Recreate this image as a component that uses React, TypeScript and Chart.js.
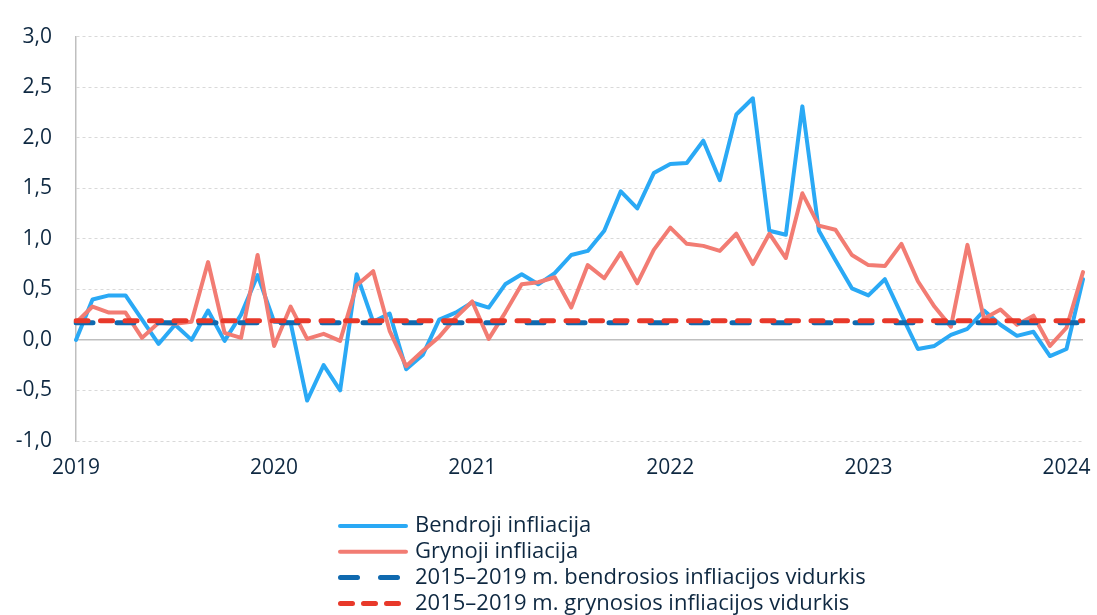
import React, { useEffect, useRef } from 'react';
import { Chart, registerables } from 'chart.js';

Chart.register(...registerables);

const years = ['2019', '2020', '2021', '2022', '2023', '2024'];
const monthCount = 62; // Jan 2019 – Feb 2024
const months: string[] = [];
years.forEach((y) => {
  for (let m = 1; m <= 12; m++) months.push(`${y}-${String(m).padStart(2, '0')}`);
});
const labels = months.slice(0, monthCount);

const bendroji = [
  0.0, 0.40, 0.44, 0.44, 0.20, -0.04, 0.15, 0.0, 0.29, -0.01, 0.25, 0.64,
  0.18, 0.17, -0.60, -0.25, -0.50, 0.65, 0.18, 0.26, -0.29, -0.15, 0.20, 0.27,
  0.37, 0.32, 0.55, 0.65, 0.55, 0.66, 0.84, 0.88, 1.08, 1.47, 1.30, 1.65,
  1.74, 1.75, 1.97, 1.58, 2.23, 2.39, 1.08, 1.04, 2.31, 1.08, 0.79, 0.51,
  0.44, 0.60, 0.25, -0.09, -0.06, 0.05, 0.11, 0.29, 0.15, 0.04, 0.08, -0.16,
  -0.09, 0.60,
];

const grynoji = [
  0.17, 0.33, 0.27, 0.27, 0.02, 0.17, 0.16, 0.18, 0.77, 0.07, 0.02, 0.84,
  -0.06, 0.33, 0.01, 0.06, -0.01, 0.54, 0.68, 0.09, -0.26, -0.11, 0.03, 0.22,
  0.38, 0.01, 0.27, 0.55, 0.57, 0.62, 0.32, 0.74, 0.61, 0.86, 0.56, 0.89,
  1.11, 0.95, 0.93, 0.88, 1.05, 0.75, 1.05, 0.81, 1.45, 1.13, 1.09, 0.84,
  0.74, 0.73, 0.95, 0.58, 0.33, 0.13, 0.94, 0.21, 0.30, 0.15, 0.24, -0.06,
  0.12, 0.67,
];

const bendrojiAvgValue = 0.17;
const grynojiAvgValue = 0.19;
const bendrojiAvg = labels.map(() => bendrojiAvgValue);
const grynojiAvg = labels.map(() => grynojiAvgValue);

const seriesNames = [
  'Bendroji infliacija',
  'Grynoji infliacija',
  '2015–2019 m. bendrosios infliacijos vidurkis',
  '2015–2019 m. grynosios infliacijos vidurkis',
];

const TEXT = '#0E2841';
const FONT = '"Open Sans", "Liberation Sans", sans-serif';

const legendPlugin = {
  id: 'customLegend',
  afterDraw(chart: any) {
    const ctx = chart.ctx;
    const x0 = 338;
    const x1 = 408;
    const tx = 415;
    const rowTop = 526;
    const rowGap = 25.8;
    ctx.save();
    chart.data.datasets.forEach((ds: any, i: number) => {
      const y = rowTop + i * rowGap;
      ctx.beginPath();
      ctx.strokeStyle = ds.borderColor;
      ctx.lineWidth = ds.legendLineWidth || ds.borderWidth;
      ctx.lineCap = ds.borderCapStyle || 'butt';
      ctx.setLineDash(ds.legendDash || []);
      const pad = ds.borderCapStyle === 'round' ? ctx.lineWidth / 2 : 0;
      ctx.moveTo(x0 + pad, y);
      ctx.lineTo(x1 - pad, y);
      ctx.stroke();
      ctx.setLineDash([]);
      ctx.fillStyle = TEXT;
      ctx.font = `22px ${FONT}`;
      ctx.textBaseline = 'middle';
      ctx.textAlign = 'left';
      ctx.fillText(ds.label, tx, y);
    });
    ctx.restore();
  },
};

export default function App() {
  const ref = useRef<HTMLCanvasElement | null>(null);

  useEffect(() => {
    document.body.style.margin = '0';
    const canvas = ref.current;
    if (!canvas) return;
    const chart = new Chart(canvas, {
      type: 'line',
      data: {
        labels,
        datasets: [
          {
            label: seriesNames[0],
            data: bendroji,
            borderColor: '#2AA9F5',
            borderWidth: 4,
            pointRadius: 0,
            tension: 0,
            order: 4,
            borderJoinStyle: 'round',
            borderCapStyle: 'round',
            legendLineWidth: 4,
          } as any,
          {
            label: seriesNames[1],
            data: grynoji,
            borderColor: '#F27C73',
            borderWidth: 4,
            pointRadius: 0,
            tension: 0,
            order: 3,
            borderJoinStyle: 'round',
            borderCapStyle: 'round',
            legendLineWidth: 4,
          } as any,
          {
            label: seriesNames[2],
            data: bendrojiAvg,
            borderColor: '#0F69AF',
            borderWidth: 5,
            borderDash: [17, 24],
            borderCapStyle: 'round',
            pointRadius: 0,
            order: 2,
            legendDash: [17, 23],
            legendLineWidth: 5,
          } as any,
          {
            label: seriesNames[3],
            data: grynojiAvg,
            borderColor: '#E8392A',
            borderWidth: 5,
            borderDash: [12, 12.5],
            borderCapStyle: 'round',
            pointRadius: 0,
            order: 1,
            legendDash: [12, 11],
            legendLineWidth: 5,
          } as any,
        ],
      },
      options: {
        responsive: false,
        animation: false,
        events: [],
        layout: { padding: { left: 0, top: 23, right: 14, bottom: 134 } },
        plugins: {
          legend: { display: false },
          tooltip: { enabled: false },
        },
        scales: {
          x: {
            type: 'category',
            grid: { display: false, drawTicks: false },
            border: { display: false },
            ticks: {
              autoSkip: false,
              maxRotation: 0,
              minRotation: 0,
              padding: 14,
              color: TEXT,
              font: { family: FONT, size: 21 },
              callback: (_v: any, idx: number) => (idx % 12 === 0 ? years[idx / 12] : ''),
            },
            afterFit: (s: any) => {
              s.height = 40;
            },
          },
          y: {
            min: -1,
            max: 3,
            ticks: {
              stepSize: 0.5,
              padding: 24,
              color: TEXT,
              font: { family: FONT, size: 21 },
              callback: (v: any) => Number(v).toFixed(1).replace('.', ','),
            },
            grid: {
              drawTicks: false,
              color: (c: any) => (c.tick && c.tick.value === 0 ? '#BFBFBF' : '#D9D9D9'),
              lineWidth: (c: any) => (c.tick && c.tick.value === 0 ? 1.5 : 1),
            },
            border: {
              display: true,
              color: '#BFBFBF',
              width: 1.5,
              dash: (c: any) => (c.tick && c.tick.value !== 0 ? [3, 3] : []),
            },
            afterFit: (s: any) => {
              s.width = 76;
            },
          },
        },
      } as any,
      plugins: [legendPlugin],
    });
    return () => chart.destroy();
  }, []);

  return (
    <div style={{ width: 1097, height: 615 }}>
      <canvas ref={ref} width={1097} height={615} style={{ display: 'block' }} />
    </div>
  );
}
